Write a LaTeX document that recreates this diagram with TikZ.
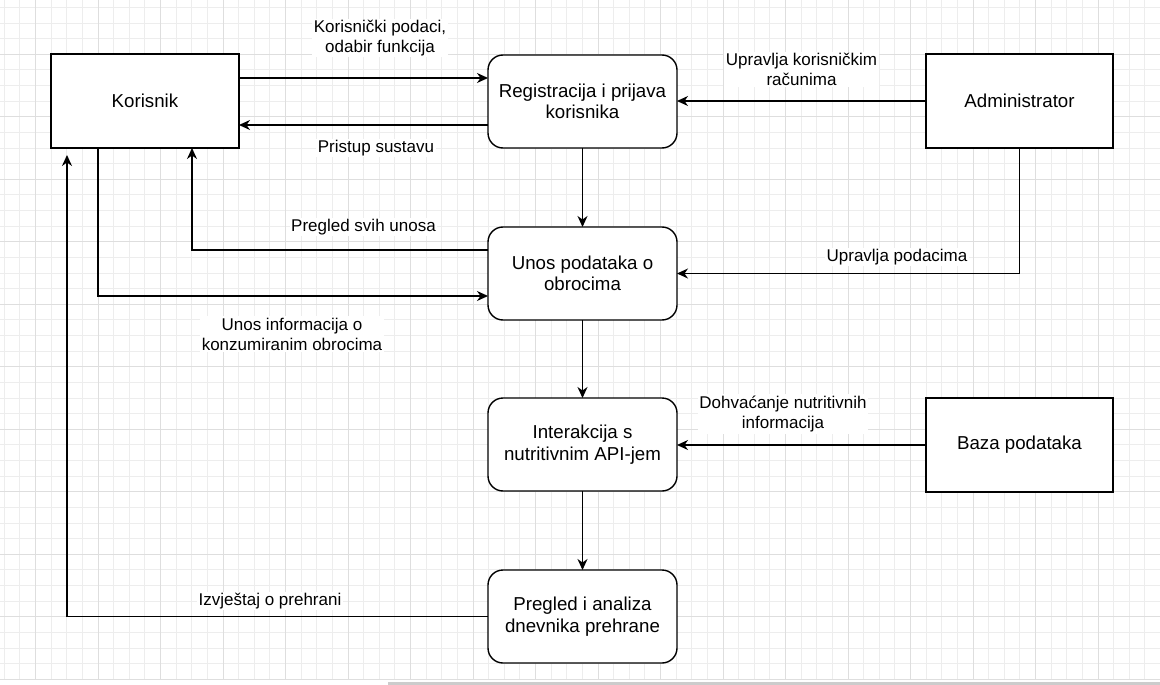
\documentclass[tikz,border=0pt]{standalone}
\usepackage{fontspec}
\setmainfont{Liberation Sans}
\usetikzlibrary{arrows.meta,calc}
\begin{document}
\begin{tikzpicture}[x=1pt,y=-1pt,
  minorg/.style={draw=black!7,line width=0.8pt},
  majorg/.style={draw=black!13,line width=0.8pt},
  box/.style={draw=black,line width=1.4pt,fill=white,minimum width=188pt,minimum height=94pt,inner sep=0pt,outer sep=0pt,align=center,font=\fontsize{18.7}{21.5}\selectfont},
  rbox/.style={box,rounded corners=15pt,minimum width=189pt,minimum height=93pt},
  lbl/.style={fill=white,inner sep=1.5pt,align=center,font=\fontsize{17}{20}\selectfont},
  arr/.style={draw=black,line width=1.4pt,-{Stealth[length=11pt,width=10pt,inset=3.5pt]}}
]
\useasboundingbox (0,0) rectangle (1160,685);
\fill[white] (0,0) rectangle (1160,685);
% grid
\foreach \i in {0,...,73} {\draw[minorg] ({4.25+15.625*\i},0) -- ({4.25+15.625*\i},680);}
\foreach \i in {0,...,43} {\draw[minorg] (0,{7.3+15.625*\i}) -- (1160,{7.3+15.625*\i});}
\foreach \i in {0,...,17} {\draw[majorg] ({35.5+62.5*\i},0) -- ({35.5+62.5*\i},680);}
\foreach \i in {0,...,10} {\draw[majorg] (0,{54.2+62.5*\i}) -- (1160,{54.2+62.5*\i});}
\fill[black!20] (388,681.5) rectangle (1160,685);

% nodes
\node[box] (kor) at (145,101) {Korisnik};
\node[rbox] (reg) at (582.5,101.5) {Registracija i prijava\\korisnika};
\node[box,minimum width=187pt] (adm) at (1019.5,101) {Administrator};
\node[rbox] (unos) at (582.5,273.5) {Unos podataka o\\obrocima};
\node[rbox] (int) at (582.5,444.5) {Interakcija s\\nutritivnim API-jem};
\node[box,minimum width=187pt] (baza) at (1019.5,445) {Baza podataka};
\node[rbox] (preg) at (582.5,616.5) {Pregled i analiza\\dnevnika prehrane};
\coordinate (kend) at (67,155);

% connectors
\draw[arr] ([yshift=23pt]kor.east) -- ([yshift=23pt]kor.east -| reg.west);
\draw[arr] ([yshift=-23.5pt]reg.west) -- ([yshift=-23.5pt]reg.west -| kor.east);
\draw[arr] (adm.west) -- (adm.west -| reg.east);
\draw[arr] (reg.south) -- (unos.north);
\draw[arr] (adm.south) |- (unos.east);
\draw[arr] ([yshift=23.5pt]unos.west) -| ([xshift=47pt]kor.south);
\draw[arr] ([xshift=-47pt]kor.south) |- ([yshift=-22.5pt]unos.west);
\draw[arr] (unos.south) -- (int.north);
\draw[arr] (baza.west) -- (baza.west -| int.east);
\draw[arr] (int.south) -- (preg.north);
\draw[arr] (preg.west) -| (kend);

% labels
\node[lbl] (l1) at (380,38) {Korisnički podaci,\\odabir funkcija};
\node[lbl] (l2) at (801.5,69.5) {Upravlja korisničkim\\računima};
\node[lbl] (l3) at (376,148) {Pristup sustavu};
\node[lbl] (l4) at (363.5,227) {Pregled svih unosa};
\node[lbl] (l5) at (897,257) {Upravlja podacima};
\node[lbl] (l6) at (292,334) {Unos informacija o\\konzumiranim obrocima};
\node[lbl] (l7) at (783,414) {Dohvaćanje nutritivnih\\informacija};
\node[lbl] (l8) at (270,601) {Izvještaj o prehrani};
\end{tikzpicture}
\end{document}
